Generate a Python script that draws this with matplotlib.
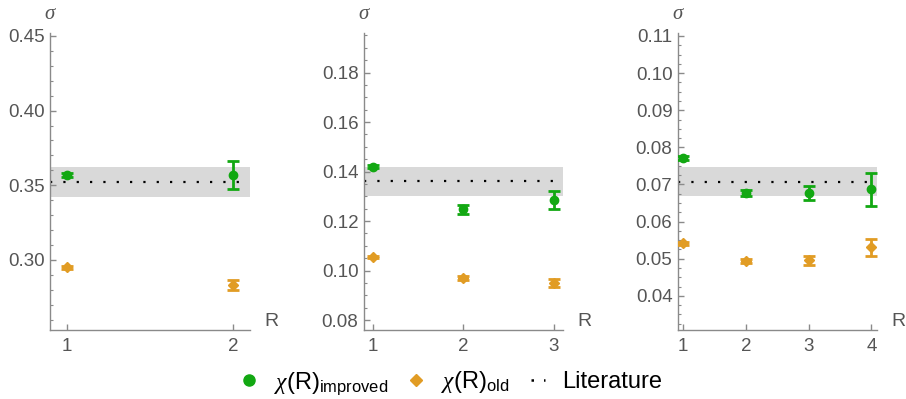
import matplotlib
matplotlib.use("Agg")
import matplotlib.pyplot as plt
from matplotlib.lines import Line2D
import numpy as np

plt.rcParams['font.family'] = ['Liberation Sans', 'DejaVu Sans']
plt.rcParams['mathtext.fontset'] = 'custom'
plt.rcParams['mathtext.it'] = 'Liberation Serif:italic'
plt.rcParams['mathtext.rm'] = 'Liberation Sans'

# ---- data ----
R1 = [1, 2]
imp1 = [0.357, 0.357]
imp1_err = [0.0015, 0.0095]
old1 = [0.295, 0.283]
old1_err = [0.0012, 0.0035]
lit1, lit1_lo, lit1_hi = 0.352, 0.342, 0.362

R2 = [1, 2, 3]
imp2 = [0.142, 0.1247, 0.1286]
imp2_err = [0.0007, 0.0017, 0.0037]
old2 = [0.1055, 0.097, 0.095]
old2_err = [0.0006, 0.0008, 0.0018]
lit2, lit2_lo, lit2_hi = 0.136, 0.130, 0.142

R3 = [1, 2, 3, 4]
imp3 = [0.0772, 0.0677, 0.0677, 0.0687]
imp3_err = [0.0005, 0.0009, 0.002, 0.0044]
old3 = [0.0541, 0.0494, 0.0496, 0.0531]
old3_err = [0.0004, 0.0005, 0.0012, 0.0023]
lit3, lit3_lo, lit3_hi = 0.0707, 0.0668, 0.0748

yticks1 = [0.30, 0.35, 0.40, 0.45]
yticks2 = [0.08, 0.10, 0.12, 0.14, 0.16, 0.18]
yticks3 = [0.04, 0.05, 0.06, 0.07, 0.08, 0.09, 0.10, 0.11]

GREEN = '#12a812'
ORANGE = '#e19c24'
AXC = '#8a8a8a'
TXT = '#555555'

W, H = 906, 399
fig = plt.figure(figsize=(W / 100, H / 100), dpi=100)

panels = [
    dict(px=(50, 250), R=R1, imp=imp1, ie=imp1_err, old=old1, oe=old1_err,
         lit=(lit1, lit1_lo, lit1_hi), ylim=(0.253, 0.452), xlim=(0.9, 2.1),
         yt=yticks1, minor=0.01, fmt='%.2f'),
    dict(px=(364, 563), R=R2, imp=imp2, ie=imp2_err, old=old2, oe=old2_err,
         lit=(lit2, lit2_lo, lit2_hi), ylim=(0.076, 0.196), xlim=(0.904, 3.1),
         yt=yticks2, minor=0.005, fmt='%.2f'),
    dict(px=(678, 877), R=R3, imp=imp3, ie=imp3_err, old=old3, oe=old3_err,
         lit=(lit3, lit3_lo, lit3_hi), ylim=(0.0308, 0.1108), xlim=(0.92, 4.09),
         yt=yticks3, minor=0.0025, fmt='%.2f'),
]

top_px, bot_px = 33, 330
for p in panels:
    l, r = p['px']
    ax = fig.add_axes([l / W, 1 - bot_px / H, (r - l) / W, (bot_px - top_px) / H])
    ax.set_xlim(*p['xlim'])
    ax.set_ylim(*p['ylim'])
    lit, lo, hi = p['lit']
    ax.axhspan(lo, hi, color='#d9d9d9', zorder=0, lw=0)
    ax.axhline(lit, color='black', ls=(0, (1, 5)), lw=1.6, zorder=1)
    ax.errorbar(p['R'], p['old'], yerr=p['oe'], fmt='D', color=ORANGE, ms=5,
                capsize=4, elinewidth=2, capthick=2, zorder=3)
    ax.errorbar(p['R'], p['imp'], yerr=p['ie'], fmt='o', color=GREEN, ms=6,
                capsize=4, elinewidth=2, capthick=2, zorder=4)
    for s in ['top', 'right']:
        ax.spines[s].set_visible(False)
    for s in ['left', 'bottom']:
        ax.spines[s].set_color(AXC)
        ax.spines[s].set_linewidth(1)
    ax.set_xticks(p['R'])
    ax.set_xticklabels([str(v) for v in p['R']])
    ax.set_yticks(p['yt'])
    ax.set_yticklabels([p['fmt'] % v for v in p['yt']])
    ax.yaxis.set_minor_locator(matplotlib.ticker.MultipleLocator(p['minor']))
    ax.tick_params(axis='both', colors=AXC, labelcolor=TXT, labelsize=13.5,
                   length=4, width=1, direction='in')
    ax.tick_params(axis='y', which='minor', colors=AXC, length=2, width=0.8,
                   direction='in')
    ax.tick_params(axis='x', pad=6)
    ax.tick_params(axis='y', pad=4)
    ax.text(0, 1.035, r'$\sigma$', transform=ax.transAxes, ha='center',
            va='bottom', fontsize=15, color=TXT)
    ax.text(1.07, 0.0, 'R', transform=ax.transAxes, ha='left', va='bottom',
            fontsize=14, color=TXT)

handles = [
    Line2D([], [], marker='o', color=GREEN, ls='none', ms=8),
    Line2D([], [], marker='D', color=ORANGE, ls='none', ms=6),
    Line2D([], [], color='black', ls=(0, (1, 4)), lw=1.8),
]
labels = [r'$\mathit{\chi}$(R)$_{\mathrm{improved}}$', r'$\mathit{\chi}$(R)$_{\mathrm{old}}$',
          'Literature']
fig.legend(handles, labels, loc='center', bbox_to_anchor=(0.499, 1 - 383 / H),
           ncol=3, frameon=False, fontsize=17, handlelength=0.6,
           handletextpad=0.75, columnspacing=0.9)

fig.savefig('out.png', dpi=100)
